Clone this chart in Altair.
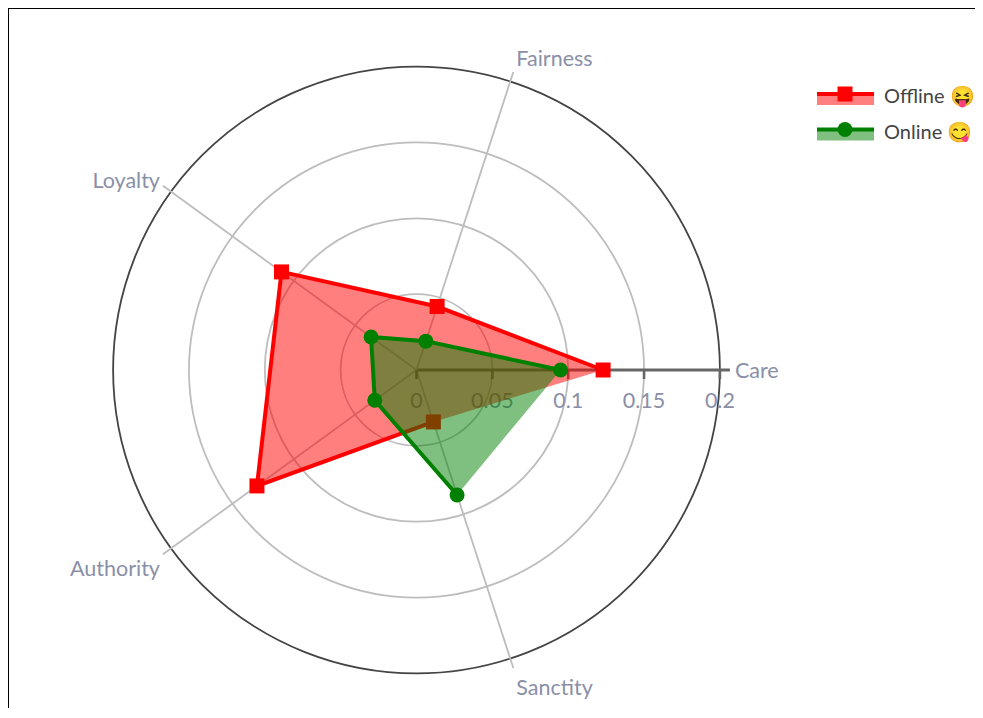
import math
import altair as alt
import pandas as pd

CATEGORIES = ["Care", "Fairness", "Loyalty", "Authority", "Sanctity"]
ANGLES = [0, 72, 144, 216, 288]
OFFLINE = [0.123, 0.044, 0.110, 0.130, 0.036]
ONLINE = [0.095, 0.020, 0.037, 0.034, 0.0866]
RINGS = [0.05, 0.1, 0.15, 0.2]
TICKS = [0, 0.05, 0.1, 0.15, 0.2]
TICK_LABELS = ["0", "0.05", "0.1", "0.15", "0.2"]
SERIES = ["Offline", "Online"]
LEGEND_TEXT = ["Offline 😝", "Online 😋"]

W, H = 967, 700
CX, CY, K = 408.5, 362, 1517.0
X_DOM = [-CX / K, (W - CX) / K]
Y_DOM = [-(H - CY) / K, CY / K]
AXIS_END = 0.2 + 10 / K
FONT = "Lato"
LABEL = "#8a8fa8"


def xy(r, a):
    t = math.radians(a)
    return r * math.cos(t), r * math.sin(t)


X = lambda f="x": alt.X(f"{f}:Q", scale=alt.Scale(domain=X_DOM, nice=False, zero=False), axis=None)
Y = lambda f="y": alt.Y(f"{f}:Q", scale=alt.Scale(domain=Y_DOM, nice=False, zero=False), axis=None)

layers = []

# rings
rings = pd.DataFrame({"r": RINGS, "x": [0] * 4, "y": [0] * 4,
                      "c": ["#bdbdbd", "#bdbdbd", "#bdbdbd", "#444444"]})
layers.append(alt.Chart(rings).mark_point(filled=False, shape="circle", strokeWidth=1.8, opacity=1).encode(
    x=X(), y=Y(),
    size=alt.Size("r:Q", legend=None, scale=alt.Scale(type="pow", exponent=2, domain=[0, 0.2], range=[0, (0.2 * K * 2) ** 2])),
    color=alt.Color("c:N", scale=None),
))

# spokes
rows = []
for c, a in zip(CATEGORIES, ANGLES):
    ex, ey = xy(AXIS_END, a)
    rows.append({"c": c, "x": 0, "y": 0, "x2": ex, "y2": ey,
                 "col": "#666666" if c == "Care" else "#bdbdbd",
                 "w": 2.8 if c == "Care" else 1.8})
spokes = pd.DataFrame(rows)
layers.append(alt.Chart(spokes).mark_rule().encode(
    x=X(), y=Y(), x2="x2:Q", y2="y2:Q", color=alt.Color("col:N", scale=None),
    strokeWidth=alt.StrokeWidth("w:Q", scale=None)))

# radial axis ticks
tick_df = pd.DataFrame({"x": TICKS, "y": [0] * 5, "y2": [-9 / K] * 5, "t": TICK_LABELS})
layers.append(alt.Chart(tick_df).mark_rule(strokeWidth=2.6, color="#666666").encode(x=X(), y=Y(), y2="y2:Q"))
layers.append(alt.Chart(tick_df).mark_text(font=FONT, fontSize=21.5, color=LABEL, dy=32).encode(
    x=X(), y=Y(), text="t:N"))

# category labels
LABEL_STYLE = {
    "Care": ("left", 5, 2),
    "Fairness": ("left", 3, -12),
    "Loyalty": ("right", -3, -4),
    "Authority": ("right", -3, 16),
    "Sanctity": ("left", 3, 21),
}
for c, a in zip(CATEGORIES, ANGLES):
    ex, ey = xy(AXIS_END, a)
    align, dx, dy = LABEL_STYLE[c]
    d = pd.DataFrame({"x": [ex], "y": [ey], "c": [c]})
    layers.append(alt.Chart(d).mark_text(font=FONT, fontSize=21.5, color=LABEL, align=align, dx=dx, dy=dy).encode(
        x=X(), y=Y(), text="c:N"))

PROJ = dict(type="identity", scale=K, translate=[CX, CY], reflectY=True)
STYLE = {"Offline": ("#ff0000", "square"), "Online": ("#008000", "circle")}

for name, vals in zip(SERIES, [OFFLINE, ONLINE]):
    col, shape = STYLE[name]
    pts = [xy(r, a) for r, a in zip(vals, ANGLES)]
    ring = [list(p) for p in pts] + [list(pts[0])]
    feature = {"type": "Feature", "properties": {"s": name},
               "geometry": {"type": "Polygon", "coordinates": [ring]}}
    layers.append(alt.Chart(alt.Data(values=[feature])).mark_geoshape(
        fill=col, fillOpacity=0.5, strokeWidth=0, stroke="transparent").project(**PROJ))
    d = pd.DataFrame({"c": CATEGORIES, "x": [p[0] for p in pts], "y": [p[1] for p in pts], "o": range(5)})
    layers.append(alt.Chart(d).mark_line(color=col, strokeWidth=4).encode(
        x=X(), y=Y(), order="o:Q"))
    layers.append(alt.Chart(d).mark_point(filled=True, shape=shape, size=225, color=col, opacity=1).encode(
        x=X(), y=Y()))

# legend
LEG_Y = [86, 121.5]
LEG_TEXT_Y = [88.5, 124.5]
for name, text, ly, ty in zip(SERIES, LEGEND_TEXT, LEG_Y, LEG_TEXT_Y):
    col, shape = STYLE[name]
    one = pd.DataFrame({"s": [name], "t": [text]})
    layers.append(alt.Chart(one).mark_rect(color=col, opacity=0.5).encode(
        x=alt.value(809), x2=alt.value(866), y=alt.value(ly), y2=alt.value(ly + 11)))
    layers.append(alt.Chart(one).mark_rule(color=col, strokeWidth=4).encode(
        x=alt.value(809), x2=alt.value(866), y=alt.value(ly)))
    layers.append(alt.Chart(one).mark_point(filled=True, shape=shape, size=225, color=col, opacity=1).encode(
        x=alt.value(837), y=alt.value(ly)))
    layers.append(alt.Chart(one).mark_text(font=FONT, fontSize=20, color="#444444", align="left").encode(
        x=alt.value(876), y=alt.value(ty), text="t:N"))

# frame
frame = pd.DataFrame({"a": [1]})
layers.append(alt.Chart(frame).mark_rule(color="black", strokeWidth=1).encode(
    x=alt.value(0.5), y=alt.value(0), y2=alt.value(H)))
layers.append(alt.Chart(frame).mark_rule(color="black", strokeWidth=1).encode(
    y=alt.value(0.5), x=alt.value(0), x2=alt.value(W)))

chart = alt.layer(*layers).properties(
    width=W, height=H, padding=0, background="white",
    autosize=alt.AutoSizeParams(type="none"),
).configure_view(stroke=None)

chart.save("out.html", embed_options={"renderer": "svg", "actions": False})
